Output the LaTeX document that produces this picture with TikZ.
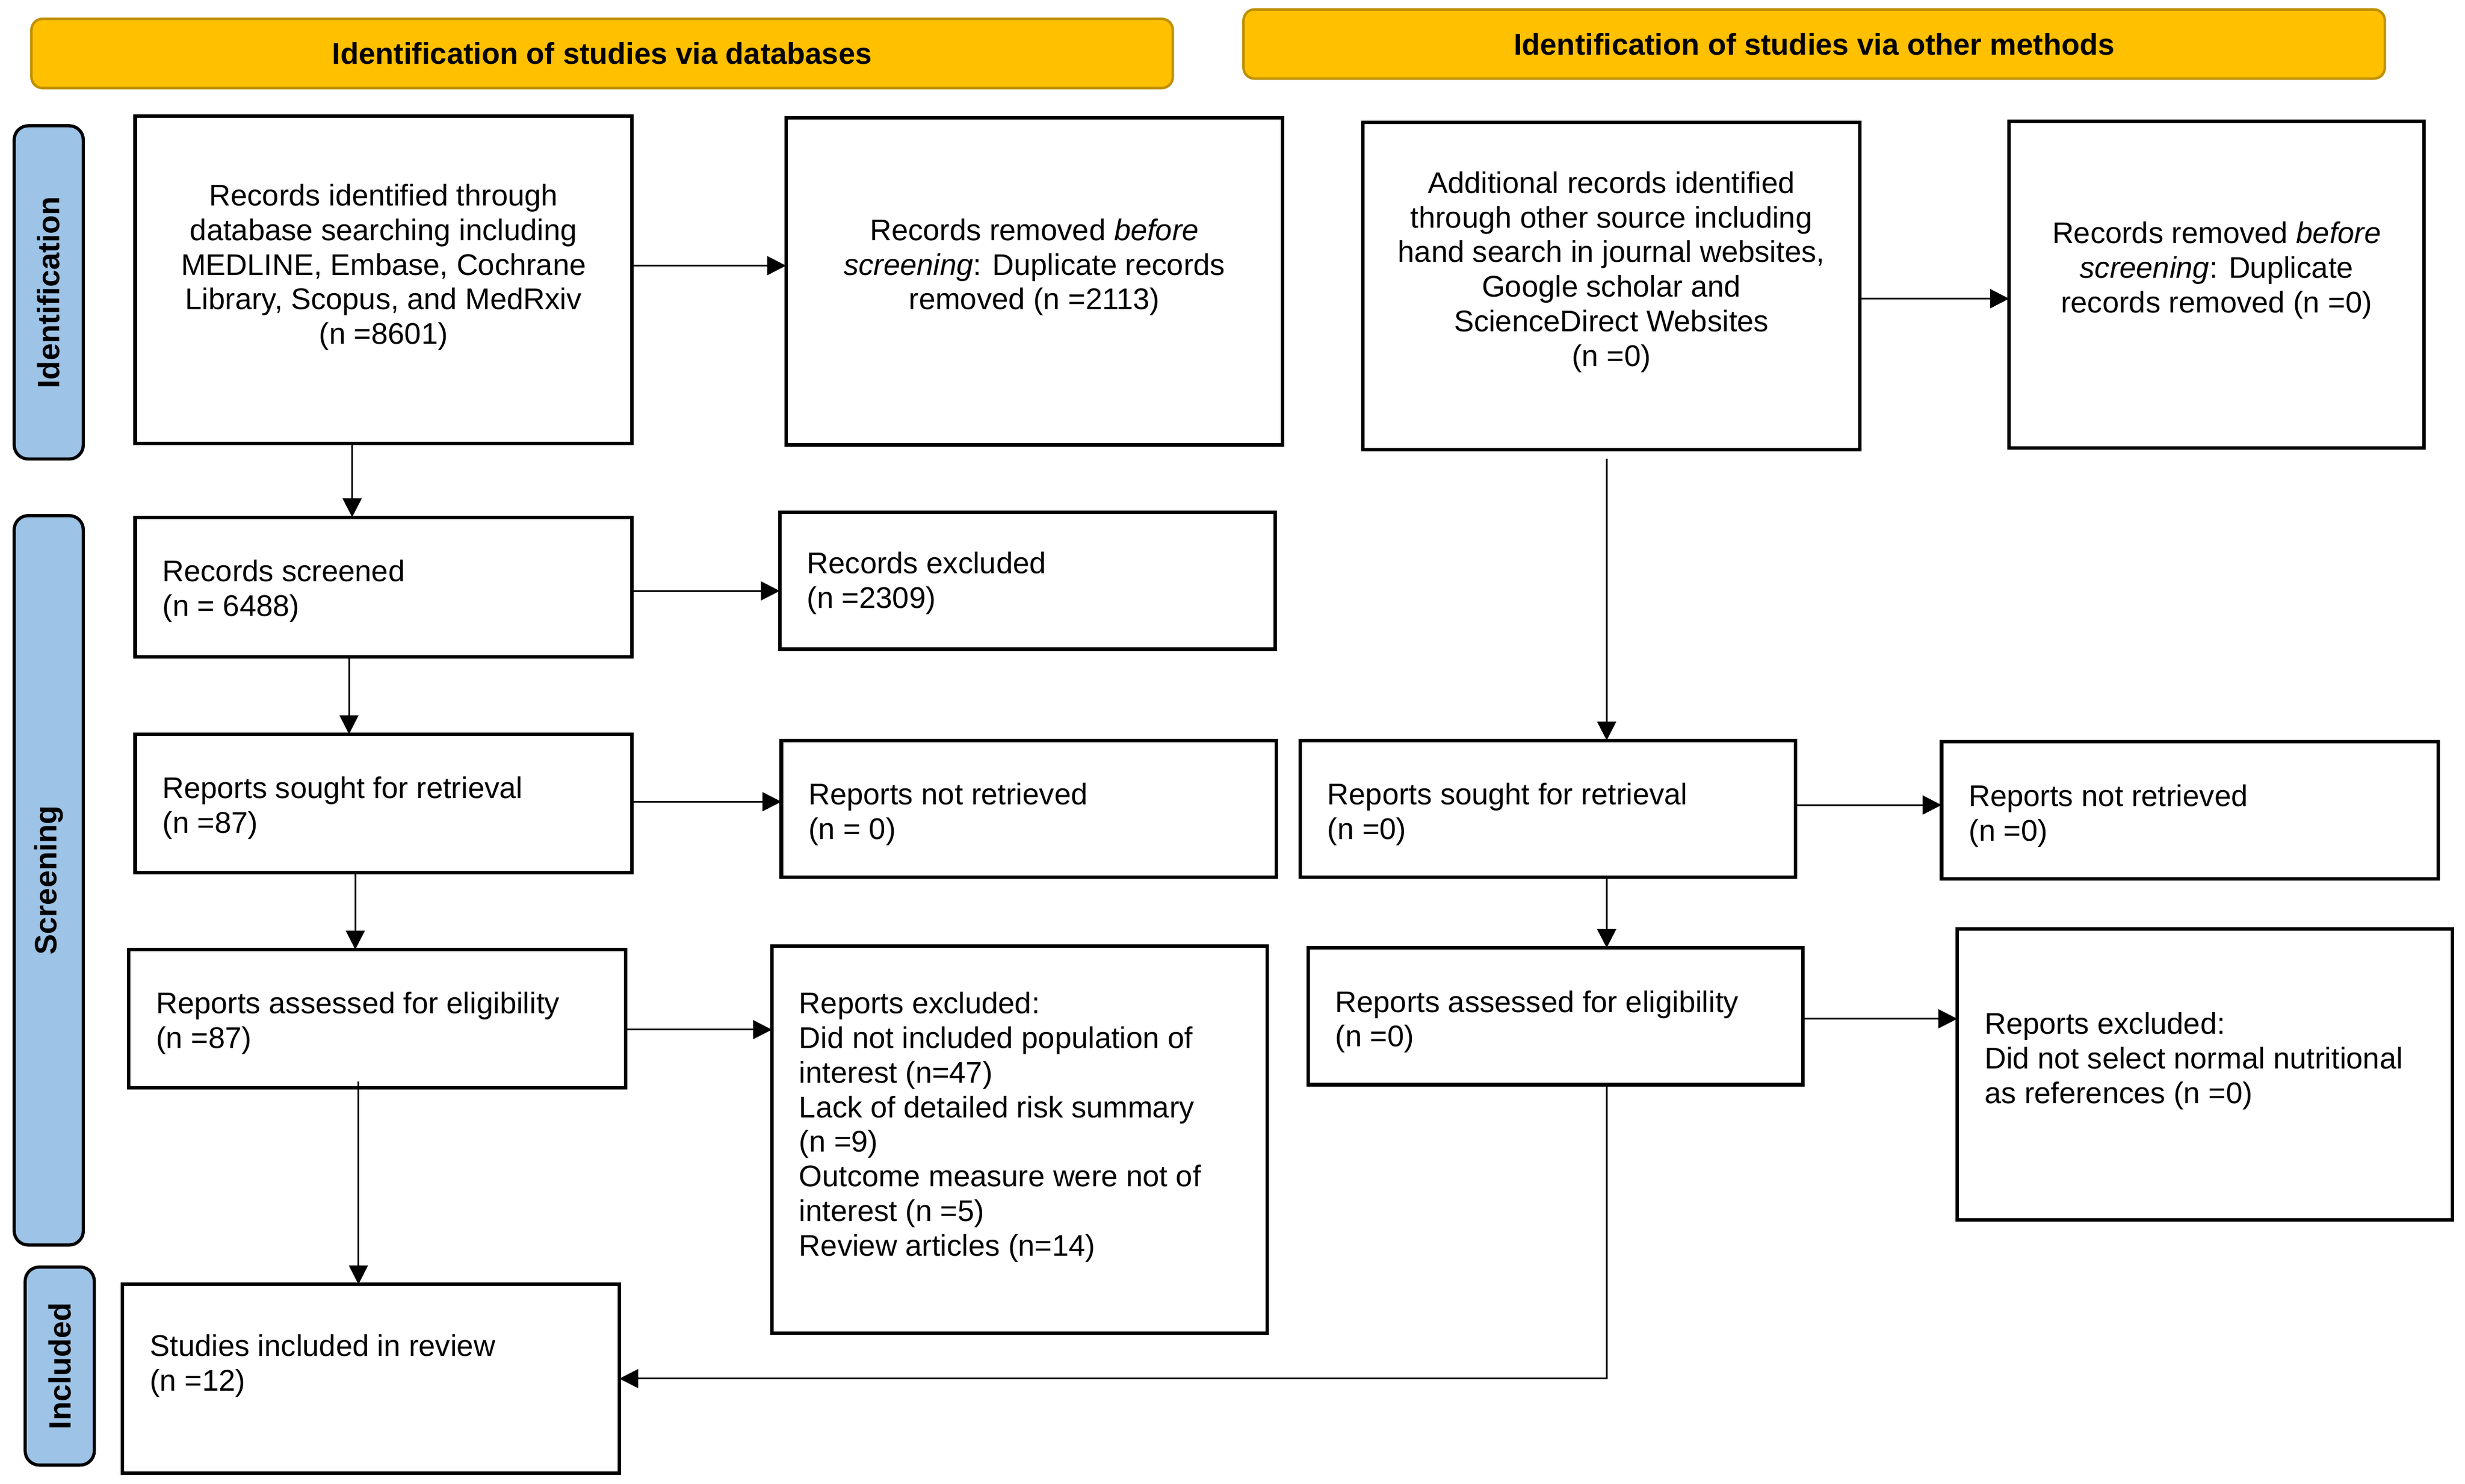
\documentclass[tikz,border=0pt]{standalone}
\usepackage{fontspec}
\setmainfont{Liberation Sans}
\usetikzlibrary{arrows.meta,calc}
\definecolor{hdrfill}{HTML}{FFC000}
\definecolor{hdrdraw}{HTML}{BF9000}
\definecolor{sidefill}{HTML}{9DC3E6}
\newcommand{\pbox}[6][pbox]{\node[#1, minimum width={(#4-#2)*0.5pt}, minimum height={(#5-#3)*0.5pt}] (#6) at ({(#2+#4)/2},{(#3+#5)/2}) {};}
\tikzset{
  pbox/.style={draw=black, line width=1.1pt, inner sep=0pt, outer sep=0pt, fill=white},
  hdr/.style={draw=hdrdraw, fill=hdrfill, line width=0.8pt, rounded corners=3.5pt, inner sep=0pt, outer sep=0pt},
  side/.style={draw=black, fill=sidefill, line width=1pt, rounded corners=4.5pt, inner sep=0pt, outer sep=0pt},
  ctext/.style={align=center, inner sep=0pt, font=\fontsize{9.5}{11}\selectfont},
  ltext/.style={align=left, anchor=west, inner sep=0pt, font=\fontsize{9.5}{11}\selectfont},
  btext/.style={inner sep=0pt, font=\fontsize{9.5}{11}\selectfont\bfseries},
  sbtext/.style={inner sep=0pt, font=\fontsize{9.8}{11}\selectfont\bfseries},
  arr/.style={line width=0.55pt, -{Triangle[length=6pt,width=6pt]}},
}
\begin{document}
\begin{tikzpicture}[x=0.5pt,y=-0.5pt]
\useasboundingbox (0,0) rectangle (1568,944);
% headers
\pbox[hdr]{20}{12}{746}{56}{H1}
\node[btext] (H1t) at (H1.center) {Identification of studies via databases};
\pbox[hdr]{791}{6}{1517}{50}{H2}
\node[btext] (H2t) at (H2.center) {Identification of studies via other methods};
% side labels
\pbox[side]{9}{80}{53}{292}{S1}
\node[sbtext, rotate=90] (S1t) at (S1.center) {Identification};
\pbox[side]{9}{328}{53}{792}{S2}
\node[sbtext, rotate=90] (S2t) at (S2.center) {Screening};
\pbox[side]{16}{806}{60}{932}{S3}
\node[sbtext, rotate=90] (S3t) at (S3.center) {Included};
% left column boxes
\pbox{86}{74}{402}{282}{A}
\node[ctext] (At) at (244,170) {Records identified through\\database searching including\\MEDLINE, Embase, Cochrane\\Library, Scopus, and MedRxiv\\(n =8601)};
\pbox{500}{75}{816}{283}{B}
\node[ctext] (Bt) at (658,170) {Records removed \textit{before}\\\textit{screening}: Duplicate records\\removed (n =2113)};
\pbox{86}{329}{402}{418}{C}
\node[ltext] (Ct) at (103,376) {Records screened\\(n = 6488)};
\pbox{496}{326}{811}{413}{D}
\node[ltext] (Dt) at (513,371) {Records excluded\\(n =2309)};
\pbox{86}{467}{402}{555}{E}
\node[ltext] (Et) at (103,514) {Reports sought for retrieval\\(n =87)};
\pbox{497}{471}{812}{558}{F}
\node[ltext] (Ft) at (514,518) {Reports not retrieved\\(n = 0)};
\pbox{82}{604}{398}{692}{G}
\node[ltext] (Gt) at (99,651) {Reports assessed for eligibility\\(n =87)};
\pbox{491}{602}{806}{848}{H}
\node[ltext] (Ht) at (508,717) {Reports excluded:\\Did not included population of\\interest (n=47)\\Lack of detailed risk summary\\(n =9)\\Outcome measure were not of\\interest (n =5)\\Review articles (n=14)};
\pbox{78}{817}{394}{937}{I}
\node[ltext] (It) at (95,869) {Studies included in review\\(n =12)};
% right column boxes
\pbox{867}{78}{1183}{286}{J}
\node[ctext] (Jt) at (1025,173) {Additional records identified\\through other source including\\hand search in journal websites,\\Google scholar and\\ScienceDirect Websites\\(n =0)};
\pbox{1278}{77}{1542}{285}{K}
\node[ctext] (Kt) at (1410,172) {Records removed \textit{before}\\\textit{screening}: Duplicate\\records removed (n =0)};
\pbox{827}{471}{1142}{558}{L}
\node[ltext] (Lt) at (844,518) {Reports sought for retrieval\\(n =0)};
\pbox{1235}{472}{1551}{559}{M}
\node[ltext] (Mt) at (1252,519) {Reports not retrieved\\(n =0)};
\pbox{832}{603}{1147}{690}{N}
\node[ltext] (Nt) at (849,650) {Reports assessed for eligibility\\(n =0)};
\pbox{1245}{591}{1560}{776}{O}
\node[ltext] (Ot) at (1262,675) {Reports excluded:\\Did not select normal nutritional\\as references (n =0)};
% connectors
\draw[arr] ([yshift=4.5pt]A.east) -- ([yshift=4.5pt]A.east -| B.west);
\draw[arr] ([xshift=-10pt]A.south) -- ([xshift=-10pt]A.south |- C.north);
\draw[arr] ([yshift=-1.2pt]C.east) -- ([yshift=-1.2pt]C.east -| D.west);
\draw[arr] ([xshift=-11pt]C.south) -- ([xshift=-11pt]C.south |- E.north);
\draw[arr] ([yshift=0.5pt]E.east) -- ([yshift=0.5pt]E.east -| F.west);
\draw[arr] ([xshift=-9pt]E.south) -- ([xshift=-9pt]E.south |- G.north);
\draw[arr] ([yshift=-3.5pt]G.east) -- ([yshift=-3.5pt]G.east -| H.west);
\draw[arr] ([xshift=-6pt,yshift=2pt]G.south) -- ([xshift=-6pt]G.south |- I.north);
\draw[arr] ([yshift=-4pt]J.east) -- ([yshift=-4pt]J.east -| K.west);
\draw[arr] ([xshift=-1.5pt,yshift=-3pt]J.south) -- ([xshift=-1.5pt]J.south |- L.north);
\draw[arr] ([yshift=1.2pt]L.east) -- ([yshift=1.2pt]L.east -| M.west);
\draw[arr] ([xshift=18.75pt]L.south) -- ([xshift=18.75pt]L.south |- N.north);
\draw[arr] ([yshift=-0.8pt]N.east) -- ([yshift=-0.8pt]N.east -| O.west);
\draw[arr] ([xshift=16.25pt]N.south) |- (I.east);
\end{tikzpicture}
\end{document}
